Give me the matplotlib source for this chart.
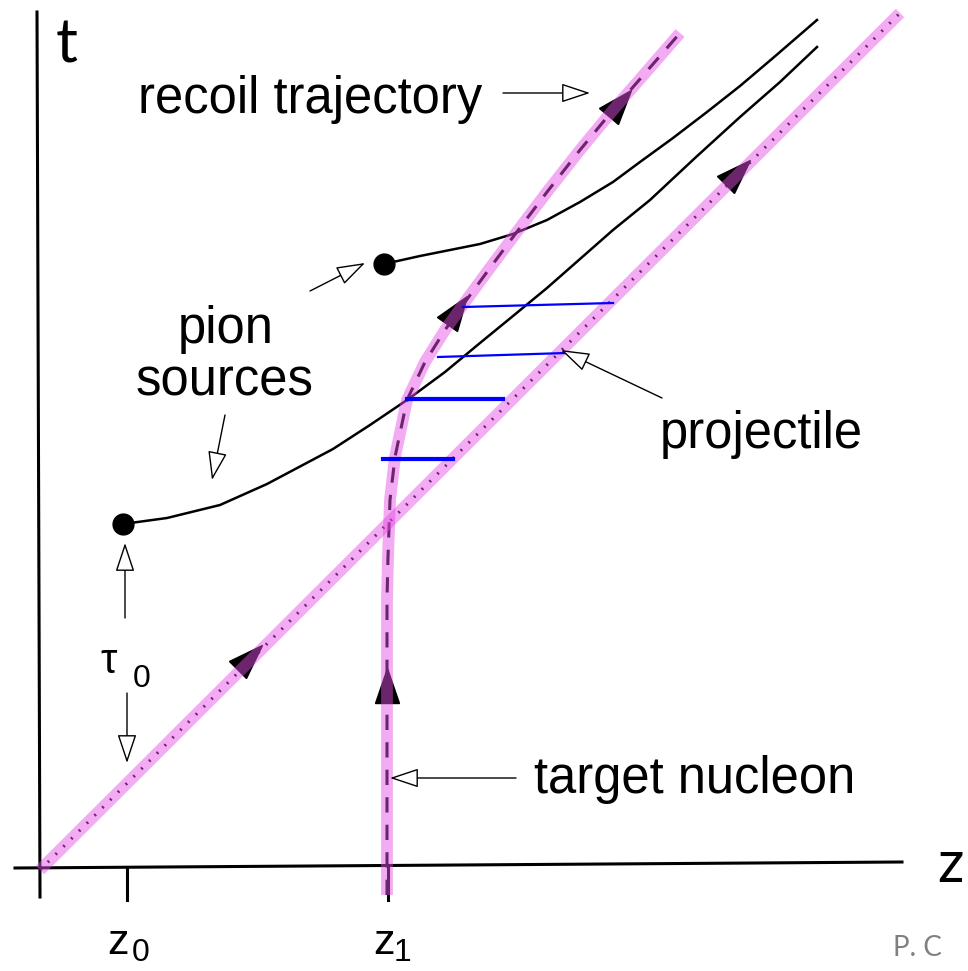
import matplotlib.pyplot as plt
from matplotlib.markers import MarkerStyle

# diagram coordinates: z to the right, t upwards, origin where the two axes meet
projectile_z = [0, 860]
projectile_t = [0, 857]

recoil_z = [347, 347, 348, 350, 355, 367, 385, 405, 425, 447, 473, 507, 540, 573, 607, 640]
recoil_t = [-25, 270, 313, 370, 413, 470, 508, 540, 568, 598, 633, 678, 720, 760, 799, 837]

# the two pion-source world lines
pion_low_z = [83, 127, 180, 227, 293, 330, 367, 405, 440, 473, 507, 540, 573, 610, 655, 700, 740, 777]
pion_low_t = [346, 352, 365, 386, 421, 445, 470, 498, 527, 554, 582, 611, 640, 670, 712, 753, 788, 823]
pion_high_z = [344, 380, 410, 440, 473, 507, 540, 573, 600, 633, 667, 700, 733, 777]
pion_high_t = [606, 614, 620, 626, 636, 650, 668, 688, 708, 732, 758, 784, 812, 850]

source_z = [83, 344]
source_t = [346, 606]

# blue horizontal connectors (start z, end z, start t, end t)
blue_z0 = [423, 398, 367, 343]
blue_z1 = [573, 526, 463, 413]
blue_t0 = [563, 513, 471, 411]
blue_t1 = [567, 517, 471, 411]
blue_lw = [1.6, 1.6, 3.0, 3.0]

# filled arrowheads on the trajectories: position and direction (deg)
head_z = [698, 210, 580, 417, 347]
head_t = [698, 213, 767, 560, 185]
head_dir = [45, 45, 50, 55, 90]

tick_z = [87, 348]

fig = plt.figure(figsize=(9.68, 9.71), dpi=100)
ax = fig.add_axes([0, 0, 1, 1])
ax.set_xlim(-40, 928)
ax.set_ylim(-101, 870)
ax.axis('off')

pink = (0.9, 0.3, 0.9)

# axes of the diagram
ax.plot([-3, 0], [858, -27], color='black', lw=2.2, zorder=1)
ax.plot([-25, 862], [2, 8], color='black', lw=2.2, zorder=1)
for z in tick_z:
    ax.plot([z, z], [3, -30], color='black', lw=2.2, zorder=1)

# projectile: dotted line under a pink band
ax.plot(projectile_z, projectile_t, color='black', lw=2.2, ls=(0, (0.6, 3.0)), zorder=2)
ax.plot(projectile_z, projectile_t, color=pink, alpha=0.47, lw=8.5, solid_capstyle='butt', zorder=3)

# target nucleon / recoil: dashed line under a pink band
ax.plot(recoil_z, recoil_t, color='black', lw=2.2, ls=(0, (5, 4)), zorder=2)
ax.plot(recoil_z, recoil_t, color=pink, alpha=0.47, lw=8.5, solid_capstyle='butt', zorder=3)

# pion sources
ax.plot(pion_low_z, pion_low_t, color='black', lw=1.8, zorder=2)
ax.plot(pion_high_z, pion_high_t, color='black', lw=1.8, zorder=2)
ax.plot(source_z, source_t, 'o', color='black', ms=15, zorder=2)

for z, t, d in zip(head_z, head_t, head_dir):
    m = MarkerStyle('^').scaled(0.85, 1.2).rotated(deg=d - 90)
    ax.plot(z, t, marker=m, color='black', ms=21, zorder=2)

for z0, z1, t0, t1, w in zip(blue_z0, blue_z1, blue_t0, blue_t1, blue_lw):
    ax.plot([z0, z1], [t0, t1], color='#0000ff', lw=w, zorder=4)

# open-headed pointer arrows
def pointer(tail, tip):
    ax.annotate('', xy=tip, xytext=tail,
                arrowprops=dict(arrowstyle='-|>,head_length=0.9,head_width=0.3',
                                fc='white', ec='black', lw=1.0,
                                mutation_scale=20, shrinkA=0, shrinkB=0),
                zorder=5)

pointer((463, 777), (550, 777))
pointer((270, 579), (325, 607))
pointer((185, 455), (172, 390))
pointer((85, 252), (85, 327))
pointer((87, 177), (87, 107))
pointer((622, 472), (521, 520))
pointer((476, 92), (350, 92))

lab = dict(family='Liberation Sans', fontsize=36.5, color='black')
ax.text(98, 757, 'recoil trajectory', ha='left', va='baseline', **lab)
ax.text(186, 527, 'pion', ha='center', va='baseline', **lab)
ax.text(185, 475, 'sources', ha='center', va='baseline', **lab)
ax.text(620, 422, 'projectile', ha='left', va='baseline', **lab)
ax.text(494, 77, 'target nucleon', ha='left', va='baseline', **lab)

ax.text(69, 197, 'τ', ha='center', va='baseline', family='Liberation Sans', fontsize=30)
ax.text(102, 183, '0', ha='center', va='baseline', family='Liberation Sans', fontsize=23)
ax.text(78, -84, 'z', ha='center', va='baseline', family='Liberation Sans', fontsize=31)
ax.text(101, -98, '0', ha='center', va='bottom', family='Liberation Sans', fontsize=23)
ax.text(344, -84, 'z', ha='center', va='baseline', family='Liberation Sans', fontsize=31)
ax.text(363, -98, '1', ha='center', va='bottom', family='Liberation Sans', fontsize=23)

ax.text(27, 825, 't', ha='center', va='center', family='Lato', fontsize=44)
ax.text(910, 5, 'z', ha='center', va='center', family='Lato', fontsize=42)
ax.text(853, -78, 'P. C', ha='left', va='center', family='Lato', fontsize=20, color='#808080')

fig.savefig('out.png', dpi=100)
